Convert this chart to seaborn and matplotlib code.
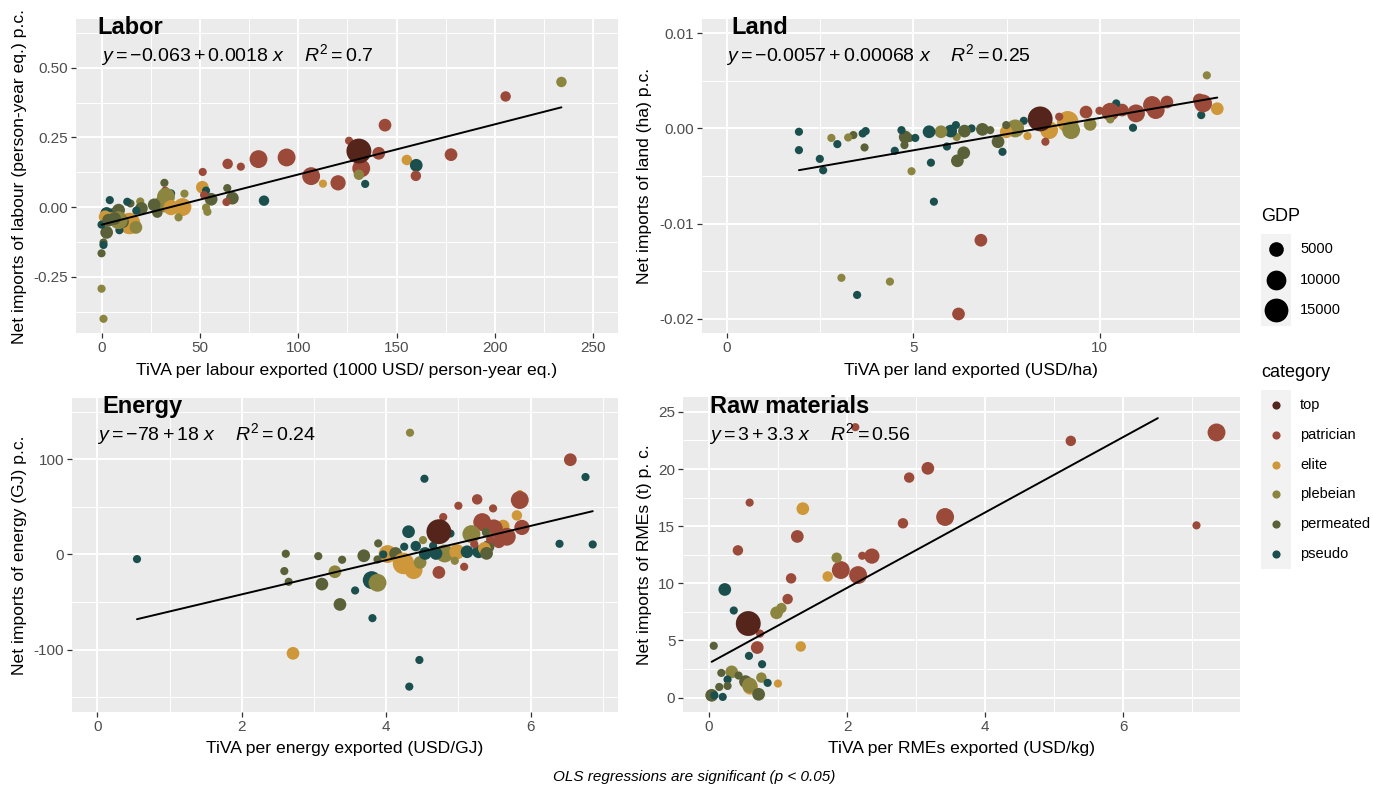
import matplotlib
matplotlib.use("Agg")
import matplotlib.pyplot as plt
from matplotlib.ticker import FixedLocator, AutoMinorLocator
from matplotlib.patches import Rectangle
import numpy as np
import pandas as pd
import seaborn as sns

# ---------------- data ----------------
categories = ["top", "patrician", "elite", "plebeian", "permeated", "pseudo"]
palette = {
    "top": "#55241B",
    "patrician": "#9B4A3A",
    "elite": "#CE973A",
    "plebeian": "#8B8540",
    "permeated": "#5A6037",
    "pseudo": "#1B4F4E",
}
gdp_legend = [5000, 10000, 15000]

# Labor
labor_x = [233.9, 205.5, 144.1, 125.8, 140.9, 177.7, 79.7, 94.0, 155.2, 160.0, 132.0, 159.8, 130.8,
           106.5, 112.5, 120.2, 134.0, 64.0, 70.7, 51.3, 51.1, 63.8, 66.4, 63.4, 82.5, 53.0, 55.6,
           53.0, 53.7, 52.0, 42.0, 41.0, 39.0, 31.8, 32.2, 35.2, 32.6, 31.4, 35.2, 26.6, 28.2, 19.5,
           20.1, 14.5, 12.9, 14.1, 17.3, 17.5, 8.5, 6.8, 4.0, 2.4, 4.8, 1.6, 2.4, 8.9, -0.2, 0.8,
           0.8, -0.2, -0.2, 0.8, 10.5, 8.5, 6.4, 3.4, 130.8]
labor_y = [0.449, 0.397, 0.294, 0.238, 0.193, 0.188, 0.172, 0.178, 0.169, 0.150, 0.139, 0.112, 0.116,
           0.111, 0.084, 0.087, 0.083, 0.155, 0.145, 0.126, 0.071, 0.068, 0.032, 0.018, 0.023, 0.059,
           0.028, -0.002, -0.017, 0.043, 0.048, 0.000, -0.037, 0.087, 0.059, 0.049, 0.037, 0.013,
           -0.002, 0.008, -0.020, 0.020, -0.005, 0.013, 0.019, -0.059, -0.073, -0.013, -0.011, -0.023,
           0.025, -0.023, -0.041, -0.035, -0.091, -0.083, -0.063, -0.127, -0.136, -0.166, -0.293,
           -0.401, -0.053, -0.047, -0.041, -0.047, 0.201]
labor_cat = ["plebeian", "patrician", "patrician", "patrician", "patrician", "patrician", "patrician",
             "patrician", "elite", "pseudo", "patrician", "patrician", "plebeian", "patrician", "elite",
             "patrician", "pseudo", "patrician", "patrician", "patrician", "elite", "permeated",
             "permeated", "patrician", "pseudo", "pseudo", "permeated", "plebeian", "plebeian",
             "patrician", "plebeian", "elite", "plebeian", "permeated", "patrician", "pseudo",
             "plebeian", "plebeian", "elite", "permeated", "permeated", "plebeian", "permeated",
             "permeated", "pseudo", "elite", "plebeian", "pseudo", "permeated", "permeated", "pseudo",
             "pseudo", "elite", "elite", "permeated", "pseudo", "pseudo", "permeated", "pseudo",
             "permeated", "plebeian", "plebeian", "permeated", "plebeian", "permeated", "permeated",
             "top"]
labor_gdp = [2000, 2000, 3500, 800, 3500, 3500, 8000, 8000, 2000, 3500, 8000, 2000, 2000,
             8000, 800, 5500, 800, 2000, 800, 800, 3500, 800, 3500, 800, 2000, 800, 3500,
             800, 800, 800, 800, 8000, 800, 800, 800, 800, 8000, 8000, 5500, 3500, 2000, 800,
             3500, 800, 800, 12000, 3500, 800, 3500, 3500, 800, 3500, 3500, 3500, 3500, 800, 800, 800,
             800, 800, 800, 800, 3500, 8000, 3500, 3500, 16500]

# Land
land_x = [12.87, 13.15, 12.72, 12.77, 12.67, 11.80, 11.50, 11.40, 10.97, 10.89, 10.60, 10.44, 10.28,
          9.99, 9.63, 9.74, 10.28, 9.14, 9.23, 8.91, 8.64, 8.54, 8.06, 7.96, 7.73, 7.49, 7.49, 7.27,
          7.39, 7.06, 6.85, 6.56, 6.37, 6.35, 6.18, 6.16, 6.00, 6.14, 5.90, 5.74, 5.47, 5.42, 5.55,
          4.90, 5.05, 4.95, 4.78, 4.76, 4.68, 4.50, 3.69, 3.72, 3.64, 3.39, 3.25, 2.96, 2.80, 2.58,
          2.49, 1.93, 1.93, 3.07, 3.49, 4.37, 6.21, 6.81, 8.40]
land_y = [0.00558, 0.00207, 0.00140, 0.00263, 0.00300, 0.00277, 0.00193, 0.00246, 0.00158, 0.00007,
          0.00193, 0.00263, 0.00175, 0.00186, 0.00172, 0.00042, 0.00095, 0.00070, -0.00018, 0.00123,
          -0.00018, -0.00140, -0.00080, 0.00080, 0.00000, -0.00035, 0.00035, -0.00140, -0.00246,
          -0.00018, -0.00010, 0.00000, -0.00028, -0.00256, -0.00340, -0.00090, -0.00028, 0.00035,
          -0.00190, -0.00035, -0.00360, -0.00035, -0.00770, -0.00100, -0.00100, -0.00450, -0.00090,
          -0.00175, -0.00018, -0.00235, -0.00200, -0.00028, -0.00053, -0.00070, -0.00095, -0.00165,
          -0.00100, -0.00440, -0.00320, -0.00035, -0.00228, -0.01570, -0.01750, -0.01610, -0.01950,
          -0.01175, 0.00100]
land_cat = ["plebeian", "elite", "pseudo", "patrician", "patrician", "patrician", "patrician",
            "patrician", "patrician", "pseudo", "patrician", "pseudo", "patrician", "patrician",
            "patrician", "plebeian", "plebeian", "elite", "plebeian", "patrician", "elite", "patrician",
            "elite", "pseudo", "plebeian", "elite", "permeated", "permeated", "pseudo", "permeated",
            "permeated", "pseudo", "permeated", "permeated", "permeated", "plebeian", "pseudo", "pseudo",
            "pseudo", "plebeian", "pseudo", "pseudo", "pseudo", "permeated", "pseudo", "plebeian",
            "permeated", "permeated", "pseudo", "pseudo", "permeated", "pseudo", "pseudo", "permeated",
            "plebeian", "pseudo", "plebeian", "pseudo", "pseudo", "pseudo", "pseudo", "plebeian",
            "pseudo", "plebeian", "patrician", "patrician", "top"]
land_gdp = [800, 3500, 800, 8000, 3500, 3500, 8000, 8000, 8000, 800, 3500, 800, 8000,
            800, 3500, 3500, 800, 12000, 8000, 800, 8000, 800, 800, 800, 8000, 3500, 800, 3500,
            800, 800, 3500, 800, 3500, 3500, 3500, 800, 3500, 800, 800, 3500, 800, 3500, 800,
            800, 800, 800, 3500, 800, 800, 800, 800, 800, 800, 800, 800, 800, 800, 800,
            800, 800, 800, 800, 800, 800, 3500, 3500, 16500]

# Energy
energy_x = [0.55, 4.33, 4.53, 6.55, 6.76, 6.40, 6.86, 5.85, 5.85, 5.81, 5.26, 5.00, 5.48, 4.79, 5.33,
            5.62, 5.88, 5.49, 5.67, 5.56, 4.31, 5.18, 5.39, 4.51, 4.89, 3.89, 4.25, 4.41, 4.65, 4.81,
            4.69, 4.98, 5.12, 5.28, 5.41, 5.22, 5.36, 5.39, 4.02, 4.13, 3.96, 3.69, 4.24, 4.38, 4.47,
            4.73, 5.08, 4.95, 3.88, 4.54, 3.80, 3.88, 3.29, 3.39, 3.06, 3.11, 3.57, 3.36, 3.81, 2.61,
            2.59, 2.65, 2.71, 4.46, 4.32, 5.44, 5.38, 4.73]
energy_y = [-4.9, 128.0, 79.6, 99.6, 81.4, 11.2, 10.5, 63.5, 57.2, 41.0, 57.9, 51.2, 48.4, 39.3, 34.0,
            29.8, 28.4, 27.4, 18.6, 13.3, 23.9, 21.4, 22.1, 15.1, 22.0, 11.6, 8.1, 8.8, 9.1, 1.0,
            1.0, 2.8, 2.8, 2.8, 8.1, 10.9, 6.3, 1.1, 0.4, 1.0, 0.0, -1.4, -9.5, -16.5, -8.4,
            -18.9, -13.0, -6.7, -5.3, 1.0, -27.0, -29.8, -18.2, -5.6, -1.8, -31.2, -37.9, -52.6, -67.0, 0.7,
            -17.5, -28.8, -104.0, -111.0, -139.0, 15.8, 23.5, 23.9]
energy_cat = ["pseudo", "plebeian", "pseudo", "patrician", "pseudo", "pseudo", "pseudo", "elite",
              "patrician", "elite", "patrician", "patrician", "patrician", "patrician", "patrician",
              "elite", "patrician", "patrician", "patrician", "patrician", "pseudo", "plebeian",
              "plebeian", "plebeian", "pseudo", "permeated", "pseudo", "pseudo", "pseudo", "plebeian",
              "pseudo", "elite", "pseudo", "pseudo", "permeated", "patrician", "elite", "permeated",
              "elite", "permeated", "pseudo", "permeated", "elite", "elite", "plebeian", "patrician",
              "patrician", "plebeian", "permeated", "pseudo", "pseudo", "plebeian", "plebeian",
              "permeated", "permeated", "permeated", "pseudo", "permeated", "pseudo", "permeated",
              "permeated", "permeated", "elite", "pseudo", "pseudo", "patrician", "permeated", "top"]
energy_gdp = [800, 800, 800, 3500, 800, 800, 800, 800, 8000, 2000, 2000, 800, 800, 800, 8000,
              3500, 5500, 8000, 8000, 3500, 3500, 8000, 800, 800, 800, 800, 800, 2000, 800, 8000,
              3500, 5500, 3500, 3500, 3500, 800, 3500, 3500, 8000, 3500, 800, 3500, 12000, 8000, 3500,
              3500, 800, 800, 800, 3500, 8000, 8000, 3500, 800, 800, 3500, 800, 3500, 800, 800,
              800, 800, 3500, 800, 800, 800, 800, 16500]

# Raw materials
raw_x = [7.35, 7.06, 5.24, 2.12, 3.17, 2.90, 3.42, 2.81, 2.36, 2.22, 1.91, 2.16, 1.85, 1.72, 1.28,
         1.36, 0.59, 0.42, 1.19, 1.14, 1.05, 0.98, 1.33, 1.00, 0.23, 0.36, 0.74, 0.70, 0.07, 0.58,
         0.77, 0.33, 0.18, 0.43, 0.27, 0.76, 0.85, 0.53, 0.60, 0.59, 0.15, 0.27, 0.72, 0.04, 0.20,
         0.08, 0.57]
raw_y = [23.2, 15.07, 22.46, 23.66, 20.06, 19.25, 15.8, 15.25, 12.38, 12.41, 11.16, 10.72, 12.24,
         10.6, 14.1, 16.53, 17.06, 12.88, 10.43, 8.62, 7.83, 7.42, 4.47, 1.23, 9.46, 7.62, 5.6,
         4.38, 4.53, 3.65, 2.92, 2.25, 2.16, 1.93, 1.58, 1.75, 1.29, 1.4, 0.93, 1.08, 0.93, 1.02,
         0.29, 0.2, 0.06, 0.2, 6.48]
raw_cat = ["patrician", "patrician", "patrician", "patrician", "patrician", "patrician", "patrician",
           "patrician", "patrician", "patrician", "patrician", "patrician", "plebeian", "elite",
           "patrician", "elite", "patrician", "patrician", "patrician", "patrician", "plebeian",
           "plebeian", "elite", "elite", "pseudo", "pseudo", "patrician", "patrician", "permeated",
           "pseudo", "pseudo", "plebeian", "permeated", "permeated", "pseudo", "plebeian", "pseudo",
           "permeated", "elite", "plebeian", "permeated", "permeated", "permeated", "permeated",
           "pseudo", "pseudo", "top"]
raw_gdp = [8000, 800, 2000, 800, 3500, 2000, 8000, 2000, 5500, 800, 8000, 8000, 2000, 2000, 3500,
           3500, 800, 2000, 2000, 2000, 2000, 3500, 2000, 800, 3500, 800, 800, 3500, 800, 800,
           800, 3500, 800, 800, 800, 2000, 800, 3500, 5500, 5500, 800, 800, 3500, 3500, 800,
           800, 16500]

# OLS fits as printed on the chart, with the x-span the line covers
fit_intercept = {"Labor": -0.063, "Land": -0.0057, "Energy": -78, "Raw materials": 3}
fit_slope = {"Labor": 0.0018, "Land": 0.00068, "Energy": 18, "Raw materials": 3.3}
fit_span = {"Labor": (-0.2, 233.9), "Land": (1.93, 13.15), "Energy": (0.55, 6.86), "Raw materials": (0.04, 6.5)}
fit_label = {
    "Labor": r"$y = -0.063 + 0.0018\ x\quad\ R^2 = 0.7$",
    "Land": r"$y = -0.0057 + 0.00068\ x\quad\ R^2 = 0.25$",
    "Energy": r"$y = -78 + 18\ x\quad\ R^2 = 0.24$",
    "Raw materials": r"$y = 3 + 3.3\ x\quad\ R^2 = 0.56$",
}

x_titles = {
    "Labor": "TiVA per labour exported (1000 USD/ person-year eq.)",
    "Land": "TiVA per land exported (USD/ha)",
    "Energy": "TiVA per energy exported (USD/GJ)",
    "Raw materials": "TiVA per RMEs exported (USD/kg)",
}
y_titles = {
    "Labor": "Net imports of labour (person-year eq.) p.c.",
    "Land": "Net imports of land (ha) p.c.",
    "Energy": "Net imports of energy (GJ) p.c.",
    "Raw materials": "Net imports of RMEs (t) p. c.",
}
x_ticks = {"Labor": [0, 50, 100, 150, 200, 250], "Land": [0, 5, 10],
           "Energy": [0, 2, 4, 6], "Raw materials": [0, 2, 4, 6]}
y_ticks = {"Labor": [-0.25, 0.0, 0.25, 0.5], "Land": [-0.02, -0.01, 0.0, 0.01],
           "Energy": [-100, 0, 100], "Raw materials": [0, 5, 10, 15, 20, 25]}
y_ticklabels = {"Labor": ["-0.25", "0.00", "0.25", "0.50"], "Land": ["-0.02", "-0.01", "0.00", "0.01"],
                "Energy": ["-100", "0", "100"], "Raw materials": ["0", "5", "10", "15", "20", "25"]}
x_lims = {"Labor": (-13.2, 262.7), "Land": (-0.67, 13.76), "Energy": (-0.35, 7.21), "Raw materials": (-0.375, 7.69)}
y_lims = {"Labor": (-0.452, 0.675), "Land": (-0.0215, 0.0115), "Energy": (-165.7, 164.5), "Raw materials": (-1.26, 26.3)}

frames = {
    "Labor": pd.DataFrame({"x": labor_x, "y": labor_y, "category": labor_cat, "GDP": labor_gdp}),
    "Land": pd.DataFrame({"x": land_x, "y": land_y, "category": land_cat, "GDP": land_gdp}),
    "Energy": pd.DataFrame({"x": energy_x, "y": energy_y, "category": energy_cat, "GDP": energy_gdp}),
    "Raw materials": pd.DataFrame({"x": raw_x, "y": raw_y, "category": raw_cat, "GDP": raw_gdp}),
}

# ---------------- layout (pixels of a 1373x788 canvas) ----------------
W, H = 1373, 788
panel_px = {  # left, right, top, bottom
    "Labor": (76, 618, 19, 333),
    "Land": (702, 1240, 19, 333),
    "Energy": (72, 618, 398, 712),
    "Raw materials": (683, 1240, 397, 712),
}
title_px = {"Labor": (97, 27), "Land": (731, 27), "Energy": (102, 407), "Raw materials": (710, 406)}
eq_px = {"Labor": (101, 55), "Land": (726, 55), "Energy": (97, 434), "Raw materials": (709, 434)}
ylab_x = {"Labor": 20, "Land": 644, "Energy": 20, "Raw materials": 644}
xlab_y = {"Labor": 370, "Land": 370, "Energy": 748, "Raw materials": 748}

SIZES = (20, 330)
SIZE_NORM = (0, 17000)


def area(g):
    return SIZES[0] + (SIZES[1] - SIZES[0]) * (g - SIZE_NORM[0]) / (SIZE_NORM[1] - SIZE_NORM[0])


sns.set_theme(style="darkgrid")
plt.rcParams["font.family"] = ["Liberation Sans", "DejaVu Sans"]
plt.rcParams["text.color"] = "black"
plt.rcParams["axes.labelcolor"] = "black"
plt.rcParams["axes.unicode_minus"] = False
plt.rcParams["mathtext.fontset"] = "custom"
plt.rcParams["mathtext.rm"] = "Liberation Sans"
plt.rcParams["mathtext.it"] = "Liberation Sans:italic"

fig = plt.figure(figsize=(W / 100, H / 100), dpi=100)
fig.patch.set_facecolor("white")

for name, df in frames.items():
    l, r, t, b = panel_px[name]
    ax = fig.add_axes([l / W, 1 - b / H, (r - l) / W, (b - t) / H])
    ax.set_facecolor("#EBEBEB")
    sns.scatterplot(data=df, x="x", y="y", hue="category", hue_order=categories, palette=palette,
                    size="GDP", sizes=SIZES, size_norm=SIZE_NORM, linewidth=0, alpha=1,
                    legend=False, ax=ax, zorder=3)
    x0, x1 = fit_span[name]
    xs = np.array([x0, x1])
    ax.plot(xs, fit_intercept[name] + fit_slope[name] * xs, color="black", lw=1.4, zorder=4)

    ax.set_xlim(*x_lims[name])
    ax.set_ylim(*y_lims[name])
    ax.xaxis.set_major_locator(FixedLocator(x_ticks[name]))
    ax.yaxis.set_major_locator(FixedLocator(y_ticks[name]))
    ax.set_yticklabels(y_ticklabels[name])
    ax.set_xticklabels([str(v) for v in x_ticks[name]])
    ax.xaxis.set_minor_locator(AutoMinorLocator(2))
    ax.yaxis.set_minor_locator(AutoMinorLocator(2))
    ax.grid(which="major", color="white", lw=1.4, zorder=0)
    ax.grid(which="minor", color="white", lw=0.7, zorder=0)
    ax.set_axisbelow(True)
    for s in ax.spines.values():
        s.set_visible(False)
    ax.tick_params(axis="both", which="major", length=3.5, width=0.9, color="#333333",
                   labelsize=11, labelcolor="#4D4D4D", pad=2, bottom=True, left=True)
    ax.tick_params(axis="both", which="minor", length=0)

    ax.set_xlabel(x_titles[name], fontsize=12.6, color="black")
    ax.set_ylabel(y_titles[name], fontsize=12.6, color="black")
    ax.xaxis.set_label_coords(((l + r) / 2) / W, 1 - xlab_y[name] / H, transform=fig.transFigure)
    ax.yaxis.set_label_coords(ylab_x[name] / W, 1 - ((t + b) / 2) / H, transform=fig.transFigure)
    ax.xaxis.label.set_va("center")
    ax.yaxis.label.set_va("center")

    tx, ty = title_px[name]
    fig.text(tx / W, 1 - ty / H, name, fontsize=17, fontweight="bold", color="black",
             ha="left", va="center")
    ex, ey = eq_px[name]
    fig.text(ex / W, 1 - ey / H, fit_label[name], fontsize=14, color="black", ha="left", va="center")

# ---------------- legends (GDP sizes + category colours) ----------------
lax = fig.add_axes([0, 0, 1, 1])
lax.set_xlim(0, W)
lax.set_ylim(H, 0)
lax.axis("off")
key_x, key_w, row_h = 1261, 30, 30.5

lax.text(key_x, 216, "GDP", fontsize=13, color="black", ha="left", va="center")
gdp_top = 234
lax.add_patch(Rectangle((key_x, gdp_top), key_w, row_h * len(gdp_legend), color="#F2F2F2", lw=0))
for i, g in enumerate(gdp_legend):
    cy = gdp_top + row_h * (i + 0.5)
    lax.scatter([key_x + key_w / 2], [cy], s=area(g), color="black", linewidths=0)
    lax.text(key_x + key_w + 9, cy, str(g), fontsize=10.5, color="black", ha="left", va="center")

lax.text(key_x, 372, "category", fontsize=13, color="black", ha="left", va="center")
cat_top = 390
lax.add_patch(Rectangle((key_x, cat_top), key_w, 29.8 * len(categories), color="#F2F2F2", lw=0))
for i, c in enumerate(categories):
    cy = cat_top + 29.8 * (i + 0.5)
    lax.scatter([key_x + key_w / 2], [cy], s=area(800), color=palette[c], linewidths=0)
    lax.text(key_x + key_w + 9, cy, c, fontsize=10.5, color="black", ha="left", va="center")

fig.text(694 / W, 1 - 777 / H, "OLS regressions are significant (p < 0.05)", fontsize=11,
         style="italic", color="black", ha="center", va="center")

fig.savefig("out.png", dpi=100)
